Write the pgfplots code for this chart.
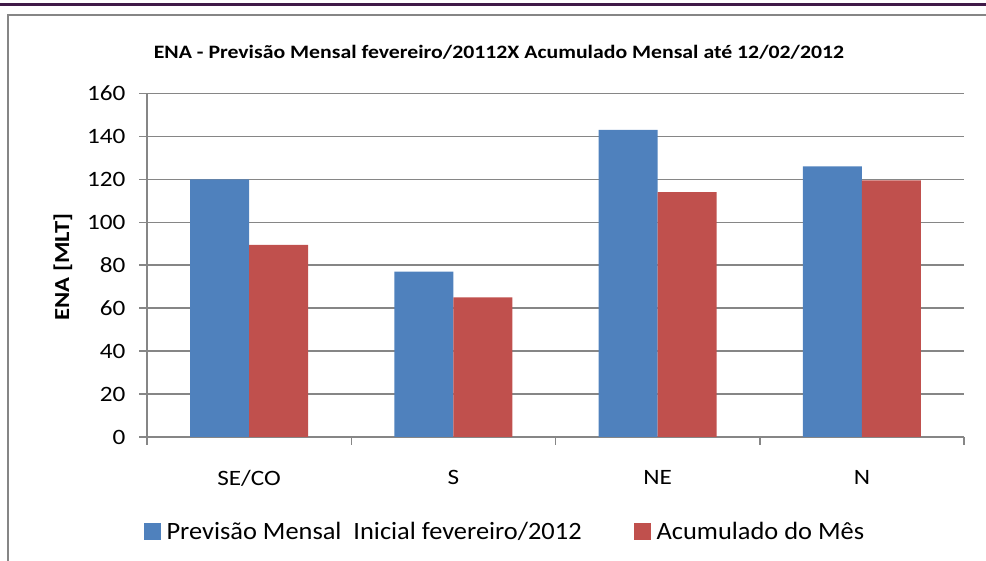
\documentclass[border=0pt]{standalone}
\usepackage{pgfplots}
\pgfplotsset{compat=1.18}
\usepackage{fontspec}
\setmainfont{Carlito}
\newfontfamily\tickfont[FakeStretch=1.15]{Carlito}
\newfontfamily\legfont[FakeStretch=1.06]{Carlito}
\definecolor{barblue}{RGB}{79,129,189}
\definecolor{barred}{RGB}{192,80,77}
\definecolor{axgray}{RGB}{134,134,134}
\definecolor{topline}{RGB}{64,26,72}
\begin{document}
\begin{tikzpicture}[x=1bp,y=1bp]
\path[use as bounding box] (0,0) rectangle (986,561);
\draw[topline, line width=3bp] (0,556) -- (986,556);
\draw[axgray, line width=2bp] (8,0) -- (8,546) -- (986,546);
\node[font=\tickfont\bfseries\fontsize{19}{22}\selectfont] at (499,509) {ENA - Previsão Mensal fevereiro/20112X Acumulado Mensal até 12/02/2012};
\begin{axis}[at={(147bp,124bp)}, anchor=south west, scale only axis,
  width=817bp, height=343.5bp,
  ymin=0, ymax=160, xmin=-0.5, xmax=3.5,
  axis x line*=bottom, axis y line*=left,
  axis line style={axgray, line width=2bp},
  ymajorgrids, major grid style={axgray, line width=1.5bp},
  ytick={0,20,...,160},
  yticklabel={\pgfmathprintnumber{\tick}\hspace*{10bp}},
  /pgf/number format/assume math mode=true,
  tick align=outside, major tick length=8bp,
  tick style={axgray, line width=1.5bp},
  xtick={-0.5,0.5,1.5,2.5,3.5}, xticklabels={},
  extra x ticks={0,1,2,3},
  extra x tick labels={SE/CO,S,NE,N},
  extra x tick style={major tick length=0pt},
  ticklabel style={font=\tickfont\fontsize{22}{24}\selectfont, text=black},
  xticklabel style={yshift=-30bp},
  ylabel={ENA [MLT]},
  ylabel style={font=\tickfont\bfseries\fontsize{21.5}{24}\selectfont, at={(axis description cs:-0.103,0.495)}, anchor=center},
  ybar=0pt, bar width=59bp,
  legend style={at={(0.438,-0.274)}, anchor=center, draw=none, fill=none,
    legend columns=2, font=\legfont\fontsize{25}{28}\selectfont,
    /tikz/every odd column/.append style={column sep=4bp},
    /tikz/every even column/.append style={column sep=50bp},
    legend cell align=left},
  legend image code/.code={\fill[#1] (0bp,-8.5bp) rectangle (17bp,8.5bp);},
]
\addplot[fill=barblue, draw=none] coordinates {(0,120) (1,77) (2,143) (3,126)};
\addplot[fill=barred, draw=none] coordinates {(0,89.5) (1,65) (2,114) (3,119.5)};
\legend{Previsão Mensal\ \ Inicial fevereiro/2012, Acumulado do Mês}
\end{axis}
\end{tikzpicture}
\end{document}
